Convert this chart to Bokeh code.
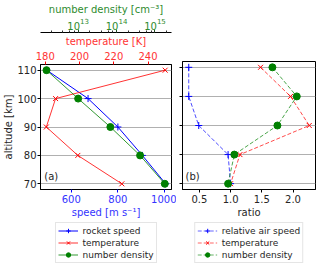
from bokeh.plotting import figure
from bokeh.models import (Range1d, LinearAxis, LogAxis, LogScale, Legend, LegendItem,
                          FixedTicker, Label, LogTicker, LogTickFormatter,
                          CustomJSTickFormatter, PrintfTickFormatter)
from bokeh.layouts import row, column
from bokeh.embed import file_html
from bokeh.resources import INLINE

FONT = "DejaVu Sans"
TXT = "#262626"

# ---- data ----
altitude = [110, 100, 90, 80, 70]
rocket_speed = [495, 672, 800, 905, 1005]
temperature = [250, 186, 180.6, 199, 224.7]
number_density = [1.5e12, 1.0e13, 6.9e13, 4.1e14, 1.8e15]
rel_air_speed = [0.33, 0.33, 0.49, 0.96, 1.0]
temp_ratio = [1.48, 1.96, 2.26, 1.15, 1.0]
nd_ratio = [1.67, 2.06, 1.75, 1.06, 0.96]

alt_ticks = [70, 80, 90, 100, 110]
speed_ticks = [600, 800, 1000]
temp_ticks = [180, 200, 220, 240]
ratio_ticks = [0.5, 1.0, 1.5, 2.0]

HM = 222      # main panels
HL = 45       # legend strips
TOP = 61
BOTTOM = 33
WA, WB = 176, 144
LA, RA = 37, 5
LB, RB = 6, 5


def style_axis(ax, color, tick_color):
    ax.major_label_text_font = FONT
    ax.major_label_text_font_size = "10px"
    ax.major_label_text_color = color
    ax.axis_label_text_font = FONT
    ax.axis_label_text_font_size = "10px"
    ax.axis_label_text_font_style = "normal"
    ax.axis_label_text_color = color
    ax.major_tick_out = 3
    ax.major_tick_in = 0
    ax.major_tick_line_color = tick_color
    ax.minor_tick_line_color = None
    ax.major_label_standoff = 2
    ax.axis_label_standoff = 1
    ax.axis_line_color = "black"


def style_fig(p):
    p.outline_line_color = "black"
    p.outline_line_width = 1
    p.xgrid.visible = False
    p.ygrid.ticker = FixedTicker(ticks=alt_ticks)
    p.ygrid.grid_line_color = "#b0b0b0"
    p.ygrid.grid_line_width = 1
    p.yaxis.ticker = FixedTicker(ticks=alt_ticks)
    p.background_fill_color = "white"
    p.border_fill_color = "white"


def legend_strip(width, left, right, specs):
    f = figure(width=width, height=HL, output_backend="svg", toolbar_location=None,
               x_range=Range1d(0, 1), y_range=Range1d(0, 1),
               x_axis_location=None, y_axis_location=None,
               min_border_left=left, min_border_right=right,
               min_border_top=0, min_border_bottom=0)
    f.outline_line_color = None
    f.grid.visible = False
    f.background_fill_color = "white"
    f.border_fill_color = "white"
    items = []
    for label, xs, color, marker, dash, alpha in specs:
        # drawn from the real data, which lies outside this strip's 0..1 ranges
        ln = f.line(xs, altitude, line_color=color, line_width=1, line_dash=dash, line_alpha=alpha)
        if marker == "circle":
            mk = f.scatter(xs, altitude, marker="circle", size=6, fill_color=color, line_color=color)
        else:
            mk = f.scatter(xs, altitude, marker=marker, size=7, line_color=color, line_width=1)
        items.append(LegendItem(label=label, renderers=[ln, mk]))
    leg = Legend(items=items, location="top_center")
    leg.label_text_font = FONT
    leg.label_text_font_size = "9px"
    leg.label_text_color = TXT
    leg.label_height = 11
    leg.glyph_height = 11
    leg.glyph_width = 20
    leg.spacing = 1
    leg.padding = 2
    leg.margin = 0
    leg.label_standoff = 5
    leg.border_line_color = "#cccccc"
    leg.border_line_width = 1
    leg.background_fill_color = "white"
    leg.background_fill_alpha = 1
    f.add_layout(leg, "center")
    return f


# ---------------- panel (a) ----------------
pa = figure(width=WA, height=HM, output_backend="svg", toolbar_location=None,
            x_range=Range1d(468, 1030), y_range=Range1d(68, 112),
            min_border_left=LA, min_border_right=RA,
            min_border_top=TOP, min_border_bottom=BOTTOM)
pa.extra_x_ranges = {"temp": Range1d(177.2, 253.7),
                     "nd": Range1d(10 ** 12.02, 10 ** 15.43)}
pa.extra_x_scales = {"nd": LogScale()}
style_fig(pa)

style_axis(pa.yaxis[0], TXT, "black")
pa.yaxis.axis_label = "altitude [km]"
pa.yaxis.axis_label_standoff = 0
pa.yaxis.major_label_standoff = 1

style_axis(pa.xaxis[0], "#3333ff", "blue")
pa.xaxis.ticker = FixedTicker(ticks=speed_ticks)
pa.xaxis.axis_label = "speed [m s\u207b\u00b9]"

tax = LinearAxis(x_range_name="temp", ticker=FixedTicker(ticks=temp_ticks),
                 axis_label="temperature [K]")
style_axis(tax, "#ff3333", "red")
tax.major_label_standoff = 2
tax.axis_label_standoff = 2
pa.add_layout(tax, "above")

nax = LogAxis(x_range_name="nd", ticker=LogTicker(), formatter=LogTickFormatter(),
              axis_label="number density [cm\u207b\u00b3]")
style_axis(nax, "#2e8b2e", "green")
nax.minor_tick_line_color = "#333333"
nax.minor_tick_out = 2
nax.major_label_standoff = 0
nax.axis_label_standoff = 0
pa.add_layout(nax, "above")

pa.line(rocket_speed, altitude, line_color="blue", line_width=1)
pa.scatter(rocket_speed, altitude, marker="cross", size=7, line_color="blue", line_width=1)
pa.line(temperature, altitude, line_color="red", line_width=1, line_alpha=0.8, x_range_name="temp")
pa.scatter(temperature, altitude, marker="x", size=7, line_color="red", line_width=1, x_range_name="temp")
pa.line(number_density, altitude, line_color="green", line_width=1, line_alpha=0.8, x_range_name="nd")
pa.scatter(number_density, altitude, marker="circle", size=7, fill_color="green",
           line_color="green", x_range_name="nd")

pa.add_layout(Label(x=484, y=72.5, text="(a)", text_font=FONT, text_font_size="10px",
                    text_color=TXT, text_baseline="middle"))

# ---------------- panel (b) ----------------
pb = figure(width=WB, height=HM, output_backend="svg", toolbar_location=None,
            x_range=Range1d(0.23, 2.36), y_range=Range1d(68, 112),
            min_border_left=LB, min_border_right=RB,
            min_border_top=TOP, min_border_bottom=BOTTOM)
style_fig(pb)
style_axis(pb.yaxis[0], TXT, "black")
pb.yaxis.formatter = CustomJSTickFormatter(code="return ''")
pb.yaxis.major_label_standoff = 0
pb.yaxis.axis_label_standoff = 0
style_axis(pb.xaxis[0], TXT, "black")
pb.xaxis.ticker = FixedTicker(ticks=ratio_ticks)
pb.xaxis.formatter = PrintfTickFormatter(format="%.1f")
pb.xaxis.axis_label = "ratio"

pb.line(rel_air_speed, altitude, line_color="blue", line_width=1, line_dash="4 2", line_alpha=0.7)
pb.scatter(rel_air_speed, altitude, marker="cross", size=7, line_color="blue", line_width=1)
pb.line(temp_ratio, altitude, line_color="red", line_width=1, line_dash="4 2", line_alpha=0.7)
pb.scatter(temp_ratio, altitude, marker="x", size=7, line_color="red", line_width=1)
pb.line(nd_ratio, altitude, line_color="green", line_width=1, line_dash="4 2", line_alpha=0.7)
pb.scatter(nd_ratio, altitude, marker="circle", size=7, fill_color="green", line_color="green")

pb.add_layout(Label(x=0.28, y=72.5, text="(b)", text_font=FONT, text_font_size="10px",
                    text_color=TXT, text_baseline="middle"))

# ---------------- legends ----------------
la = legend_strip(WA, LA, RA, [
    ("rocket speed", rocket_speed, "blue", "cross", "solid", 1.0),
    ("temperature", temperature, "red", "x", "solid", 0.8),
    ("number density", number_density, "green", "circle", "solid", 0.8),
])
lb = legend_strip(WB, LB, RB, [
    ("relative air speed", rel_air_speed, "blue", "cross", "4 2", 0.6),
    ("temperature", temp_ratio, "red", "x", "4 2", 0.6),
    ("number density", nd_ratio, "green", "circle", "4 2", 0.6),
])

layout = row(column(pa, la, spacing=0), column(pb, lb, spacing=0), spacing=0)
open("out.html", "w").write(file_html(layout, INLINE))
